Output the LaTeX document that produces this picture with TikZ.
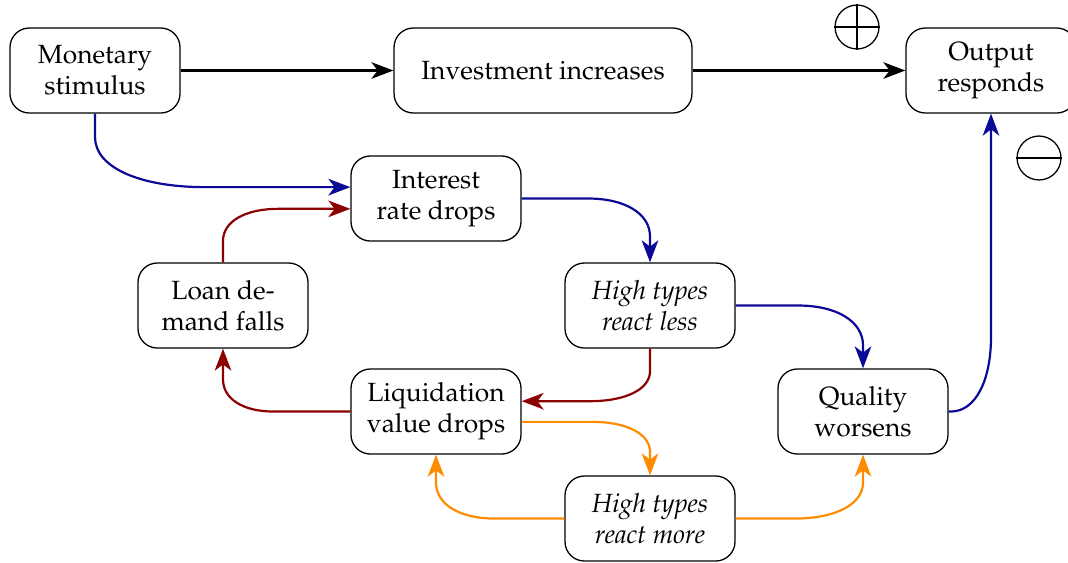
\documentclass[tikz,border=0pt]{standalone}
\usepackage[T1]{fontenc}
\usepackage{mathpazo}
\usetikzlibrary{arrows.meta,calc}
\definecolor{cblue}{RGB}{10,10,150}
\definecolor{cred}{RGB}{140,0,0}
\definecolor{corange}{RGB}{255,140,0}
% #1 style, #2 from, #3 corner, #4 to, (#5,#6) offset where curve starts, (#7,#8) offset where it ends
\newcommand\elbowpath[8]{%
  \draw[#1] (#2) -- ($(#3)+(#5,#6)$) .. controls ($(#3)+({0.4*(#5)},{0.4*(#6)})$) and ($(#3)+({0.4*(#7)},{0.4*(#8)})$) .. ($(#3)+(#7,#8)$) -- (#4);}
\begin{document}
\begin{tikzpicture}[x=0.387pt,y=-0.387pt,
 box/.style={draw, rounded corners=7.5pt, minimum width=65.8pt, minimum height=32.9pt, align=center, line width=0.5pt, font=\fontsize{10.2}{12.1}\selectfont},
 conn/.style={line width=0.85pt, -{Stealth[length=8.5pt,width=6.4pt,inset=2.4pt]}},
 sign/.style={circle, draw, line width=0.5pt, minimum size=17pt, inner sep=0pt}]
\useasboundingbox (0,0) rectangle (1068,562);
\node[box] (mon) at (95,70.5) {Monetary\\stimulus};
\node[box, minimum width=115.3pt] (inv) at (543,70.5) {Investment increases};
\node[box] (out) at (991,70.5) {Output\\responds};
\node[box] (int) at (436,198.5) {Interest\\rate drops};
\node[box] (loan) at (223,305.5) {Loan de-\\mand falls};
\node[box] (less) at (650,305.5) {\itshape High types\\\itshape react less};
\node[box] (liq) at (436,411.5) {Liquidation\\value drops};
\node[box] (qual) at (863,411.5) {Quality\\worsens};
\node[box] (more) at (650,518.5) {\itshape High types\\\itshape react more};
\node[sign] (plus) at (857,27) {};
\draw[line width=0.5pt] (plus.north) -- (plus.south) (plus.west) -- (plus.east);
\node[sign] (minus) at (1039,158) {};
\draw[line width=0.5pt] (minus.west) -- (minus.east);
\draw[conn] (mon) -- (inv);
\draw[conn] (inv) -- (out);
\coordinate (i1) at ([yshift=4.4pt]int.west);
\coordinate (i2) at ([yshift=-4pt]int.west);
\coordinate (l1) at ([yshift=4pt]liq.east);
\coordinate (l2) at ([yshift=-4pt]liq.east);
% vertical then horizontal
\elbowpath{conn, cblue}{mon.south}{mon.south |- i1}{i1}{0}{-50}{110}{0}
\elbowpath{conn, cred}{loan.north}{loan.north |- i2}{i2}{0}{32}{55}{0}
\elbowpath{conn, cred}{less.south}{less.south |- l1}{l1}{0}{-30}{-60}{0}
% horizontal then vertical
\elbowpath{conn, cblue}{int.east}{int.east -| less.north}{less.north}{-62}{0}{0}{38}
\elbowpath{conn, cblue}{less.east}{less.east -| qual.north}{qual.north}{-65}{0}{0}{40}
\elbowpath{conn, cred}{liq.west}{liq.west -| loan.south}{loan.south}{50}{0}{0}{-32}
\elbowpath{conn, corange}{l2}{l2 -| more.north}{more.north}{-58}{0}{0}{30}
\elbowpath{conn, corange}{more.west}{more.west -| liq.south}{liq.south}{58}{0}{0}{-36}
\elbowpath{conn, corange}{more.east}{more.east -| qual.south}{qual.south}{-68}{0}{0}{-36}
\elbowpath{conn, cblue}{qual.east}{qual.east -| out.south}{out.south}{-40}{0}{0}{-75}
\end{tikzpicture}
\end{document}
